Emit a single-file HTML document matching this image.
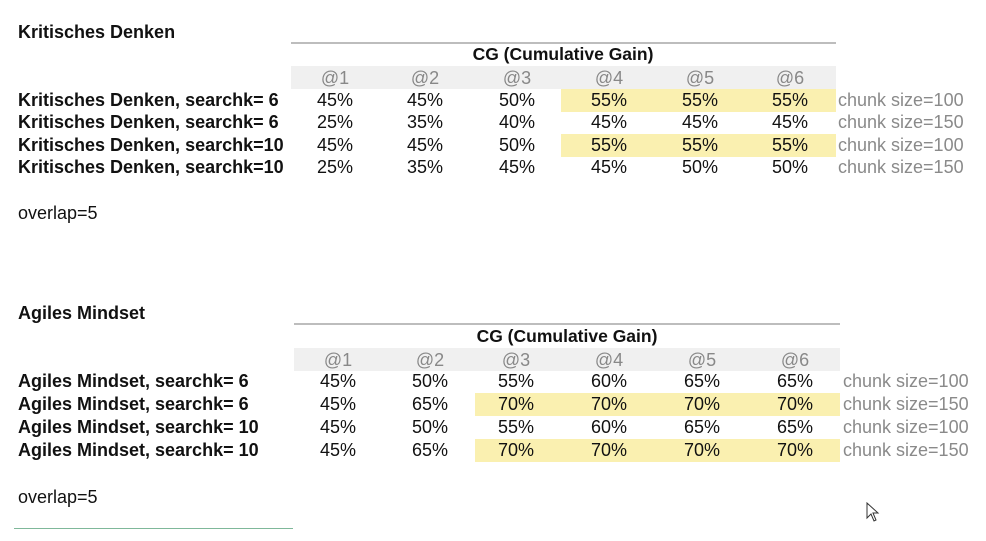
<!DOCTYPE html>
<html><head><meta charset="utf-8"><style>
body{margin:0;width:986px;height:541px;background:#fff;position:relative;overflow:hidden;font-family:"Liberation Sans",Arial,sans-serif;color:#111}
.a{position:absolute;white-space:nowrap;line-height:1}
.b{font-weight:bold}
.c{transform:translateX(-50%)}
.g{color:#8a8a8a}
.h{color:#888}
.r{position:absolute}
</style></head><body>
<div id="root"></div>
<script>
var H='';
function t(x,y,s,cls,fs){fs=fs||18;H+='<div class="a '+(cls||'')+'" style="left:'+x+'px;top:'+(y-fs*0.5)+'px;font-size:'+fs+'px">'+s+'</div>';}
function r(x,y,w,h,c){H+='<div class="r" style="left:'+x+'px;top:'+y+'px;width:'+w+'px;height:'+h+'px;background:'+c+'"></div>';}
function block(o){
 t(18,o.ty,o.title,'b',18);
 r(o.lx,o.ly,o.lw,2,'#bdbdbd');
 r(o.lx,o.hy,o.lw,23,'#f0f0f0');
 o.rows.forEach(function(row,i){ if(row.y) r(row.y,o.ry[i]-11,o.lx+o.lw-row.y,23,'#faf0b0');});
 t(o.cgx,o.cgy,'CG (Cumulative Gain)','b c',17.5);
 o.cols.forEach(function(cx,j){t(cx,o.hy+12,'@'+(j+1),'c h');});
 o.rows.forEach(function(row,i){
  t(18,o.ry[i],row.l,'b');
  row.v.forEach(function(v,j){t(o.cols[j],o.ry[i],v+'%','c');});
  t(o.chx,o.ry[i],'chunk size='+row.c,'g');
 });
 t(18,o.oy,'overlap=5','',18);
}
block({title:'Kritisches Denken',ty:32,lx:291,ly:42,lw:545,hy:66,cgx:563,cgy:55,chx:838,oy:213,
 cols:[335,425,517,609,700,790],ry:[100,122,145,167],
 rows:[{l:'Kritisches Denken, searchk= 6',v:[45,45,50,55,55,55],c:100,y:561},
 {l:'Kritisches Denken, searchk= 6',v:[25,35,40,45,45,45],c:150},
 {l:'Kritisches Denken, searchk=10',v:[45,45,50,55,55,55],c:100,y:561},
 {l:'Kritisches Denken, searchk=10',v:[25,35,45,45,50,50],c:150}]});
block({title:'Agiles Mindset',ty:313,lx:294,ly:323,lw:546,hy:348,cgx:567,cgy:337,chx:843,oy:497,
 cols:[338,430,516,609,702,795],ry:[381,404,427,450],
 rows:[{l:'Agiles Mindset, searchk= 6',v:[45,50,55,60,65,65],c:100},
 {l:'Agiles Mindset, searchk= 6',v:[45,65,70,70,70,70],c:150,y:475},
 {l:'Agiles Mindset, searchk= 10',v:[45,50,55,60,65,65],c:100},
 {l:'Agiles Mindset, searchk= 10',v:[45,65,70,70,70,70],c:150,y:475}]});
r(14,528,279,1,'#7fb89a');
document.getElementById('root').innerHTML=H;
</script>
<svg class="r" style="left:866px;top:502px" width="16" height="22" viewBox="0 0 16 22"><path d="M1 1 L1 16 L5 12 L8 19 L10 18 L7 11 L12 11 Z" fill="#fff" stroke="#333" stroke-width="1"/></svg>
</body></html>
